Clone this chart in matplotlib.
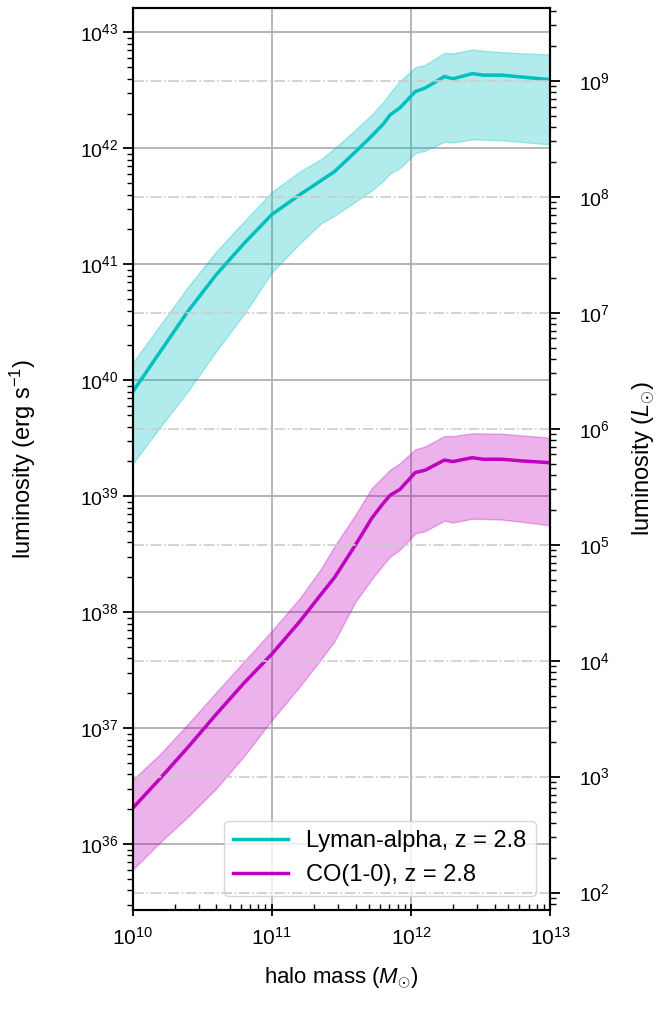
import numpy as np
import matplotlib
matplotlib.use('Agg')
import matplotlib.pyplot as plt

plt.rcParams['font.family'] = ['Liberation Sans', 'DejaVu Sans']
plt.rcParams['mathtext.fontset'] = 'custom'
plt.rcParams['mathtext.rm'] = 'Liberation Sans'
plt.rcParams['mathtext.it'] = 'Liberation Sans:italic'

# halo mass grid (log10 M_sun)
log_mass = [10.0, 10.2, 10.4, 10.6, 10.8, 11.0, 11.2, 11.35, 11.45, 11.6, 11.72, 11.8,
            11.85, 11.92, 12.03, 12.1, 12.24, 12.3, 12.44, 12.52, 12.65, 12.8, 13.0]

# Lyman-alpha luminosity (log10 erg/s)
lya_med = [39.90, 40.25, 40.60, 40.91, 41.18, 41.43, 41.60, 41.72, 41.80, 41.97, 42.11, 42.21,
           42.29, 42.35, 42.49, 42.52, 42.62, 42.60, 42.645, 42.632, 42.632, 42.615, 42.593]
lya_hi = [40.15, 40.48, 40.81, 41.11, 41.37, 41.625, 41.80, 41.905, 42.0, 42.16, 42.295, 42.40,
          42.48, 42.58, 42.70, 42.72, 42.824, 42.82, 42.853, 42.842, 42.83, 42.82, 42.81]
lya_lo = [39.28, 39.60, 39.91, 40.25, 40.57, 40.93, 41.18, 41.35, 41.42, 41.54, 41.64, 41.72,
          41.785, 41.83, 41.96, 41.98, 42.057, 42.05, 42.078, 42.075, 42.07, 42.055, 42.034]

# CO(1-0) luminosity (log10 erg/s)
co_med = [36.31, 36.57, 36.84, 37.12, 37.39, 37.64, 37.92, 38.15, 38.30, 38.58, 38.815, 38.94,
          39.01, 39.06, 39.205, 39.225, 39.313, 39.30, 39.333, 39.32, 39.32, 39.305, 39.29]
co_hi = [36.555, 36.78, 37.04, 37.31, 37.575, 37.84, 38.12, 38.37, 38.57, 38.84, 39.075, 39.17,
         39.23, 39.285, 39.405, 39.43, 39.52, 39.52, 39.543, 39.542, 39.54, 39.525, 39.505]
co_lo = [35.78, 36.02, 36.24, 36.48, 36.76, 37.07, 37.36, 37.59, 37.75, 38.09, 38.29, 38.41,
         38.48, 38.54, 38.68, 38.70, 38.79, 38.775, 38.807, 38.805, 38.80, 38.78, 38.75]

L_sun = 3.828e33  # erg/s

mass = 10 ** np.array(log_mass)

fig = plt.figure(figsize=(6.63, 10.11), dpi=100)
ax = fig.add_axes([0.200, 0.100, 0.630, 0.892])

ax.fill_between(mass, 10 ** np.array(lya_lo), 10 ** np.array(lya_hi), color='c', alpha=0.3, lw=1)
ax.plot(mass, 10 ** np.array(lya_med), color='c', lw=2.5, label='Lyman-alpha, z = 2.8')
ax.fill_between(mass, 10 ** np.array(co_lo), 10 ** np.array(co_hi), color='m', alpha=0.3, lw=1)
ax.plot(mass, 10 ** np.array(co_med), color='m', lw=2.5, label='CO(1-0), z = 2.8')

ax.set_xscale('log')
ax.set_yscale('log')
ax.set_xlim(1e10, 1e13)
ylo, yhi = 10 ** 35.434, 10 ** 43.21
ax.set_ylim(ylo, yhi)
ax.grid(True, which='major', color='#b0b0b0', lw=1.3)
ax.set_axisbelow(True)

ax.set_xlabel(r'halo mass ($M_{\odot}$)', fontsize=16, labelpad=12)
ax.set_ylabel(r'luminosity (erg s$^{-1}$)', fontsize=17, labelpad=30)
ax.tick_params(axis='both', which='major', labelsize=14)
ax.tick_params(axis='x', which='major', direction='inout', length=9, width=1.3, pad=8, labelsize=15)
ax.tick_params(axis='x', which='minor', direction='in', length=4, width=1)
ax.tick_params(axis='y', which='major', direction='out', length=7, width=1.3)
ax.tick_params(axis='y', which='minor', direction='out', length=4, width=1)
for s in ax.spines.values():
    s.set_linewidth(1.5)

ax2 = ax.twinx()
ax2.set_yscale('log')
ax2.set_ylim(ylo / L_sun, yhi / L_sun)
ax2.grid(True, which='major', color='#cccccc', lw=1.2, linestyle='-.')
ax2.set_ylabel(r'luminosity ($L_{\odot}$)', fontsize=17, labelpad=14)
ax2.tick_params(axis='y', which='major', labelsize=14, direction='out', length=7, width=1.3, pad=14)
ax2.tick_params(axis='y', which='minor', direction='out', length=4, width=1)
for s in ax2.spines.values():
    s.set_linewidth(1.5)

ax.legend(loc='lower right', fontsize=17, framealpha=0.8, borderpad=0.4,
          handlelength=2.3, borderaxespad=0.6)

fig.savefig('out.png', dpi=100)
